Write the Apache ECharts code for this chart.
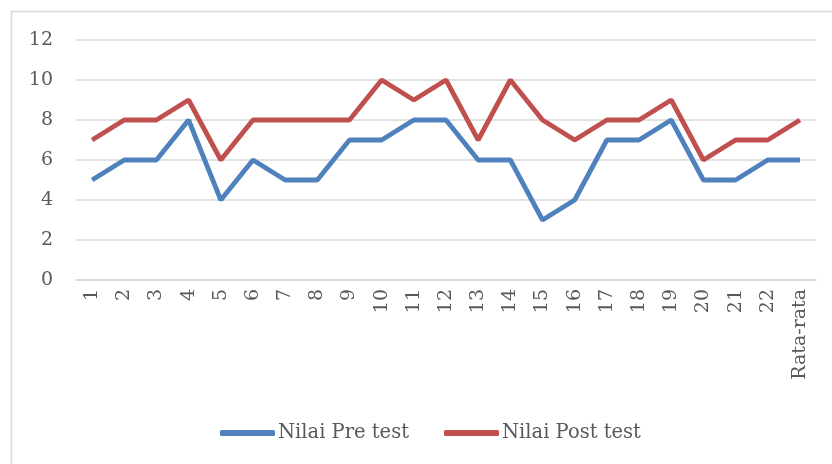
<!DOCTYPE html>
<html><head><meta charset="utf-8">
<script src="https://cdn.jsdelivr.net/npm/echarts@6/dist/echarts.min.js"></script>
<style>html,body{margin:0;padding:0;background:#fff}#c{width:832px;height:464px}</style>
</head><body><div id="c"></div>
<script>
const categories = ['1','2','3','4','5','6','7','8','9','10','11','12','13','14','15','16','17','18','19','20','21','22','Rata-rata'];
const preTest = [5,6,6,8,4,6,5,5,7,7,8,8,6,6,3,4,7,7,8,5,5,6,6];
const postTest = [7,8,8,9,6,8,8,8,8,10,9,10,7,10,8,7,8,8,9,6,7,7,8];
const seriesNames = ['Nilai Pre test','Nilai Post test'];
const font = 'DejaVu Serif';
const chart = echarts.init(document.getElementById('c'));
chart.setOption({
  animation:false,
  backgroundColor:'#fff',
  graphic:[{type:'rect',shape:{x:11.5,y:11.5,width:900,height:600},style:{fill:'none',stroke:'#D9D9D9',lineWidth:1.5},silent:true}],
  grid:{left:76,right:16,top:40,bottom:184},
  legend:{top:418,left:215,itemWidth:55,itemHeight:6,itemGap:35,
    icon:'roundRect',
    textStyle:{fontFamily:font,fontSize:19.5,color:'#595959',padding:[0,0,0,-2]},
    data:seriesNames},
  xAxis:{type:'category',data:categories,boundaryGap:true,
    axisLine:{lineStyle:{color:'#D9D9D9',width:1.5}},axisTick:{show:false},
    axisLabel:{rotate:90,interval:0,fontFamily:font,fontSize:19,color:'#595959',margin:9}},
  yAxis:{type:'value',min:0,max:12,interval:2,
    axisLine:{show:false},axisTick:{show:false},
    splitLine:{lineStyle:{color:'#D9D9D9',width:1.5}},
    axisLabel:{fontFamily:font,fontSize:19,color:'#595959',margin:23}},
  series:[
    {name:seriesNames[0],type:'line',data:preTest,symbol:'none',lineStyle:{color:'#4F81BD',width:4.8},itemStyle:{color:'#4F81BD'}},
    {name:seriesNames[1],type:'line',data:postTest,symbol:'none',lineStyle:{color:'#C0504D',width:4.8},itemStyle:{color:'#C0504D'}}
  ]
});
</script></body></html>
